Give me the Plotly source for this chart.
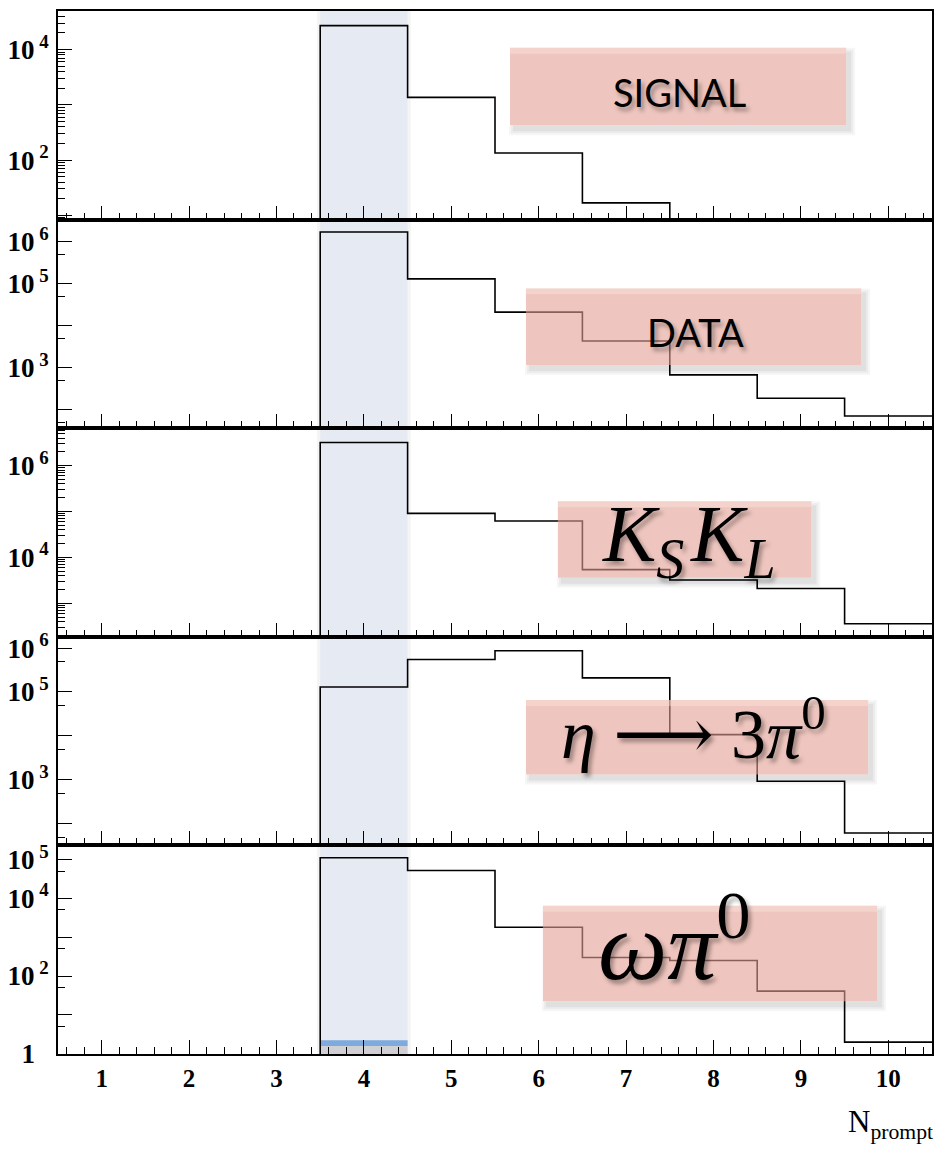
import math
import plotly.graph_objects as go
from plotly.subplots import make_subplots

# ---------------- data ----------------
bin_edges = [0.5, 1.5, 2.5, 3.5, 4.5, 5.5, 6.5, 7.5, 8.5, 9.5, 10.5]
signal_counts = [0, 0, 0, 2.7e4, 1.36e3, 134, 16.8, 0, 0, 0]
data_counts = [0, 0, 0, 1.7e6, 1.3e5, 2.1e4, 4.3e3, 670, 186, 70]
kskl_counts = [0, 0, 0, 3.2e6, 9.1e4, 6.2e4, 5.4e3, 3.2e3, 2.1e3, 355]
eta3pi_counts = [0, 0, 0, 1.3e5, 5.5e5, 8.7e5, 2.1e5, 1.07e4, 930, 62]
omegapi_counts = [0, 0, 0, 1.1e5, 5.2e4, 1.8e3, 300, 250, 41, 2.0]

panel_counts = [signal_counts, data_counts, kskl_counts, eta3pi_counts, omegapi_counts]
panel_yrange_log = [(0.923, 4.696), (1.555, 6.526), (2.267, 6.818), (1.509, 6.256), (-0.005, 5.36)]
panel_decades = [[1, 2, 3, 4], [2, 3, 4, 5, 6], [3, 4, 5, 6], [2, 3, 4, 5, 6], [0, 1, 2, 3, 4, 5]]
panel_labeled = [[4, 2], [6, 5, 3], [6, 4], [6, 5, 3], [5, 4, 2, 0]]
panel_minor_style = ["full", "five", "full", "five", "five"]

x_tick_vals = [1, 2, 3, 4, 5, 6, 7, 8, 9, 10]
x_tick_text = [f"<b>{v}</b>" for v in x_tick_vals]
highlight_bin = (3.5, 4.5)
x_title = "N<sub>prompt</sub>"

labels = [
    dict(text="SIGNAL", font="Lato", size=38, box=(511, 44, 848, 122), c=(681, 88)),
    dict(text="DATA", font="Lato", size=38, box=(527, 286, 863, 363), c=(697, 330)),
    dict(text="<i>K</i><sub><i>S</i></sub>\u200a<i>K</i><sub><i>L</i></sub>", font="Liberation Serif",
         size=80, box=(559, 500, 813, 577), c=(690, 539)),
    dict(text="<i>η</i> <span style='font-family:DejaVu Serif'>⟶</span> 3<i>π</i><sup>0</sup>",
         font="Liberation Serif", size=70, box=(527, 700, 870, 775), c=(695, 730)),
    dict(text="<i>ωπ</i><sup>0</sup>", font="Liberation Serif", size=98,
         box=(544, 907, 879, 1003), c=(676, 940)),
]

# ---------------- layout geometry ----------------
W, H = 937, 1156
SHIFT = 2  # page offset compensation
L, R, T, B = 58, 934, 7 - SHIFT, 1056 - SHIFT


def fx(px):
    return (px - L) / (R - L)


def fy(py):
    return (B - (py - SHIFT)) / (B - T)


fig = make_subplots(rows=5, cols=1, vertical_spacing=0)

ytick_font = dict(family="Liberation Serif", size=27, color="black")
xtick_font = dict(family="Liberation Serif", size=25, color="black")

for i, counts in enumerate(panel_counts):
    lo, hi = panel_yrange_log[i]
    floor = 10 ** (lo - 1)
    ys = [c if c > 0 else floor for c in counts]
    ys = ys + [ys[-1]]
    fig.add_trace(go.Scatter(x=bin_edges, y=ys, mode="lines",
                             line=dict(color="black", width=1.6, shape="hv"),
                             hoverinfo="skip", showlegend=False), row=i + 1, col=1)

    tv, tt = [], []
    for d in panel_decades[i]:
        tv.append(10 ** d)
        if d in panel_labeled[i]:
            tt.append("<b>1</b>\u00a0\u00a0" if d == 0 else f"<b>10</b><sup><b> {d}</b></sup>")
        else:
            tt.append("")
    minor_vals = []
    for d in range(-1, 8):
        mults = range(2, 10) if panel_minor_style[i] == "full" else [5]
        for m in mults:
            v = m * 10 ** d
            if lo <= math.log10(v) <= hi:
                minor_vals.append(v)

    yname = "yaxis" if i == 0 else f"yaxis{i + 1}"
    xname = "xaxis" if i == 0 else f"xaxis{i + 1}"
    fig.layout[yname].update(
        type="log", range=[lo, hi], tickmode="array", tickvals=tv, ticktext=tt,
        ticks="inside", ticklen=14, tickwidth=1.3, tickcolor="black",
        showline=True, linewidth=2, linecolor="black", mirror=True,
        showgrid=False, zeroline=False, tickfont=ytick_font, ticklabelstandoff=2,
        minor=dict(tickmode="array", tickvals=minor_vals, ticks="inside",
                   ticklen=7, tickwidth=1.2, tickcolor="black", showgrid=False),
    )
    fig.layout[xname].update(
        range=[0.5, 10.5], tickmode="array", tickvals=x_tick_vals,
        ticktext=x_tick_text if i == 4 else [""] * len(x_tick_vals),
        ticks="inside", ticklen=14, tickwidth=1.3, tickcolor="black",
        showline=True, linewidth=2, linecolor="black", mirror=True,
        showgrid=False, zeroline=False, tickfont=xtick_font, ticklabelstandoff=1,
        minor=dict(dtick=0.2, tick0=0, ticks="inside", ticklen=7, tickwidth=1.2,
                   tickcolor="black", showgrid=False),
    )

    xref = "x" if i == 0 else f"x{i + 1}"
    yref_dom = ("y" if i == 0 else f"y{i + 1}") + " domain"
    fig.add_shape(type="rect", xref=xref, yref=yref_dom,
                  x0=highlight_bin[0] - 0.035, x1=highlight_bin[1] + 0.035, y0=0, y1=1,
                  fillcolor="rgba(150,150,150,0.10)", line=dict(width=0), layer="below")
    fig.add_shape(type="rect", xref=xref, yref=yref_dom,
                  x0=highlight_bin[0], x1=highlight_bin[1], y0=0, y1=1,
                  fillcolor="#e6ebf3", line=dict(width=0), layer="below")

fig.add_shape(type="rect", xref="x5", yref="y5 domain", x0=highlight_bin[0], x1=highlight_bin[1],
              y0=0, y1=0.038, fillcolor="#d0d0d4", line=dict(width=0), layer="below")
fig.add_shape(type="rect", xref="x5", yref="y5 domain", x0=highlight_bin[0], x1=highlight_bin[1],
              y0=0.038, y1=0.066, fillcolor="#7eaadd", line=dict(width=0), layer="below")


def lshape(x0, y0, x1, y1, dx, dy, e):
    pts = [(x1, y0 + dy - e), (x1 + dx + e, y0 + dy - e), (x1 + dx + e, y1 + dy + e),
           (x0 + dx - e, y1 + dy + e), (x0 + dx - e, y1), (x1, y1)]
    return "M " + " L ".join(f"{fx(a):.5f},{fy(b):.5f}" for a, b in pts) + " Z"


for lab in labels:
    x0, y0, x1, y1 = lab["box"]
    for e, a in [(5, 0.035), (3, 0.04), (1, 0.05)]:
        fig.add_shape(type="path", xref="paper", yref="paper", path=lshape(x0, y0, x1, y1, 4, 5, e),
                      fillcolor=f"rgba(0,0,0,{a})", line=dict(width=0), layer="above")
    fig.add_shape(type="rect", xref="paper", yref="paper",
                  x0=fx(x0), x1=fx(x1), y0=fy(y1), y1=fy(y0),
                  fillcolor="rgba(228,160,148,0.6)", line=dict(width=0), layer="above")
    fig.add_shape(type="rect", xref="paper", yref="paper",
                  x0=fx(x0), x1=fx(x1), y0=fy(y0 + 6), y1=fy(y0),
                  fillcolor="rgba(255,235,230,0.35)", line=dict(width=0), layer="above")
    fig.add_annotation(text=lab["text"], xref="paper", yref="paper",
                       x=fx(lab["c"][0]), y=fy(lab["c"][1]), xanchor="center", yanchor="middle",
                       showarrow=False,
                       font=dict(family=lab["font"], size=lab["size"], color="black",
                                 shadow="3px 4px 4px rgba(0,0,0,0.35)"))

fig.add_annotation(text=x_title, xref="paper", yref="paper", x=fx(937), y=fy(1126),
                   xanchor="right", yanchor="middle", showarrow=False,
                   font=dict(family="Liberation Serif", size=31, color="black"))

fig.update_layout(width=W, height=H, margin=dict(l=L, r=W - R, t=T, b=H - B),
                  paper_bgcolor="white", plot_bgcolor="white", showlegend=False)

fig.write_html("out.html")
